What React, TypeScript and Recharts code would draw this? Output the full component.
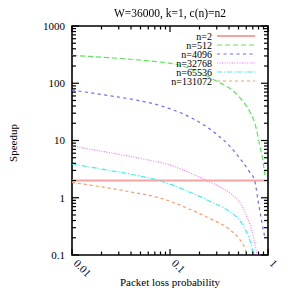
import React from "react";
import { LineChart, Line, XAxis, YAxis, Legend, ReferenceArea } from "recharts";

// packet loss probability (x) and speedup (y), one pair of lists per n
const lossN2 = [0.01, 0.1, 0.925];
const speedupN2 = [2, 2, 2];

const lossN512 = [0.01, 0.0785, 0.099, 0.286, 0.49, 0.54, 0.65, 0.76, 0.82, 0.89, 0.925];
const speedupN512 = [307, 235, 225, 113, 62, 51, 32, 16, 8.4, 4.3, 2.5];

const lossN4096 = [0.01, 0.022, 0.045, 0.0785, 0.099, 0.172, 0.297, 0.406, 0.535, 0.65, 0.731, 0.791, 0.857, 0.925];
const speedupN4096 = [76, 62, 51, 41, 36, 24, 13, 8, 4.5, 2.8, 2.0, 0.9, 0.41, 0.21];

const lossN32768 = [0.01, 0.0209, 0.0362, 0.0621, 0.0994, 0.135, 0.236, 0.322, 0.406, 0.515, 0.578, 0.649, 0.712, 0.775];
const speedupN32768 = [8.0, 6.4, 5.4, 4.5, 3.75, 3.07, 2.0, 1.55, 1.22, 0.82, 0.57, 0.35, 0.2, 0.1];

const lossN65536 = [0.01, 0.0209, 0.0455, 0.0785, 0.159, 0.254, 0.406, 0.515, 0.578, 0.649, 0.712];
const speedupN65536 = [3.9, 3.13, 2.46, 1.98, 1.25, 0.87, 0.57, 0.4, 0.29, 0.186, 0.1];

const lossN131072 = [0.01, 0.0362, 0.0785, 0.0994, 0.159, 0.243, 0.406, 0.515, 0.565, 0.614];
const speedupN131072 = [1.85, 1.3, 0.99, 0.87, 0.63, 0.45, 0.277, 0.186, 0.146, 0.1];

const xTicks = [0.01, 0.02, 0.03, 0.04, 0.05, 0.06, 0.07, 0.08, 0.09, 0.1, 0.2, 0.3, 0.4, 0.5, 0.6, 0.7, 0.8, 0.9, 1];
const yTicks = [
  0.1, 0.2, 0.3, 0.4, 0.5, 0.6, 0.7, 0.8, 0.9,
  1, 2, 3, 4, 5, 6, 7, 8, 9,
  10, 20, 30, 40, 50, 60, 70, 80, 90,
  100, 200, 300, 400, 500, 600, 700, 800, 900, 1000,
];

const toPoints = (loss: number[], speedup: number[]) => loss.map((p, i) => ({ p, s: speedup[i] }));

const series = [
  { name: "n=2", color: "#f7a3a3", dash: undefined, width: 2, data: toPoints(lossN2, speedupN2) },
  { name: "n=512", color: "#5de65d", dash: "5 3", width: 1.2, data: toPoints(lossN512, speedupN512) },
  { name: "n=4096", color: "#6b6bff", dash: "3 3.5", width: 1.2, data: toPoints(lossN4096, speedupN4096) },
  { name: "n=32768", color: "#ff7aff", dash: "1 1.5", width: 1.2, data: toPoints(lossN32768, speedupN32768) },
  { name: "n=65536", color: "#3df0f0", dash: "5 2 1 2", width: 1.2, data: toPoints(lossN65536, speedupN65536) },
  { name: "n=131072", color: "#ff9a6a", dash: "3 3", width: 1.2, data: toPoints(lossN131072, speedupN131072) },
];

const FONT = '"Liberation Serif", "DejaVu Serif", serif';
const PLOT_TOP = 26;
const PLOT_RIGHT = 268;

const isMajor = (v: number) => Math.abs(Math.log10(v) - Math.round(Math.log10(v))) < 1e-6;

// gnuplot style: inward ticks, mirrored on the top border
const BottomTick = (props: any) => {
  const { x, y, payload } = props;
  const major = isMajor(payload.value);
  const len = major ? 6 : 3.5;
  return (
    <g>
      <line x1={x} y1={y} x2={x} y2={y - len} stroke="#000" strokeWidth={1.2} />
      <line x1={x} y1={PLOT_TOP} x2={x} y2={PLOT_TOP + len} stroke="#000" strokeWidth={1.2} />
      {major && (
        <text
          x={0}
          y={0}
          transform={`translate(${x + 1},${y + 9}) rotate(45)`}
          fontSize={11}
          fontFamily={FONT}
          fill="#000"
        >
          {String(payload.value)}
        </text>
      )}
    </g>
  );
};

// inward ticks on the left, mirrored on the right border
const LeftTick = (props: any) => {
  const { x, y, payload } = props;
  const major = isMajor(payload.value);
  const len = major ? 7 : 4;
  return (
    <g>
      <line x1={x} y1={y} x2={x + len} y2={y} stroke="#000" strokeWidth={1.2} />
      <line x1={PLOT_RIGHT} y1={y} x2={PLOT_RIGHT - len} y2={y} stroke="#000" strokeWidth={1.2} />
      {major && (
        <text x={x - 7} y={y} dy="0.35em" textAnchor="end" fontSize={11} fontFamily={FONT} fill="#000">
          {String(payload.value)}
        </text>
      )}
    </g>
  );
};

const KeyBox = () => (
  <svg width={120} height={56} style={{ display: "block" }}>
    {series.map((s, i) => (
      <g key={s.name}>
        <text
          x={62}
          y={6 + i * 9}
          dy="0.35em"
          textAnchor="end"
          fontSize={10}
          fontFamily={FONT}
          fill="#000"
        >
          {s.name}
        </text>
        <line
          x1={67}
          x2={105}
          y1={6 + i * 9}
          y2={6 + i * 9}
          stroke={s.color}
          strokeWidth={s.width}
          strokeDasharray={s.dash}
        />
      </g>
    ))}
  </svg>
);

export default function App() {
  return (
    <div style={{ position: "fixed", left: 0, top: 0, width: 291, height: 291, background: "#fff" }}>
      <div
        style={{
          position: "absolute",
          left: 0,
          top: 6,
          width: 340,
          textAlign: "center",
          fontFamily: FONT,
          fontSize: 11.5,
          lineHeight: "14px",
          zIndex: 1,
        }}
      >
        W=36000, k=1, c(n)=n2
      </div>
      <LineChart width={291} height={291} margin={{ top: PLOT_TOP, right: 23, left: 0, bottom: 0 }}>
        <XAxis
          dataKey="p"
          type="number"
          scale="log"
          domain={[0.01, 1]}
          ticks={xTicks}
          interval={0}
          allowDataOverflow
          axisLine={false}
          tickLine={false}
          tickSize={0}
          tickMargin={0}
          height={36}
          tick={<BottomTick />}
          label={{
            value: "Packet loss probability",
            position: "insideBottom",
            offset: 5,
            fontSize: 11,
            fontFamily: FONT,
            fill: "#000",
          }}
        />
        <YAxis
          type="number"
          scale="log"
          domain={[0.1, 1000]}
          ticks={yTicks}
          interval={0}
          allowDataOverflow
          axisLine={false}
          tickLine={false}
          tickSize={0}
          tickMargin={0}
          width={72}
          tick={<LeftTick />}
          label={{
            content: () => (
              <text
                transform="translate(17,143) rotate(-90)"
                textAnchor="middle"
                fontSize={11}
                fontFamily={FONT}
                fill="#000"
              >
                Speedup
              </text>
            ),
          }}
        />
        <Legend
          layout="vertical"
          align="center"
          verticalAlign="middle"
          wrapperStyle={{ left: 150, top: 30, width: 120, height: 56 }}
          content={() => <KeyBox />}
        />
        {series.map((s) => (
          <Line
            key={s.name}
            name={s.name}
            data={s.data}
            dataKey="s"
            type="monotone"
            stroke={s.color}
            strokeWidth={s.width}
            strokeDasharray={s.dash}
            dot={false}
            activeDot={false}
            isAnimationActive={false}
          />
        ))}
        <ReferenceArea
          x1={0.01}
          x2={1}
          y1={0.1}
          y2={1000}
          fill="none"
          fillOpacity={0}
          stroke="#000"
          strokeWidth={1.6}
        />
      </LineChart>
    </div>
  );
}
